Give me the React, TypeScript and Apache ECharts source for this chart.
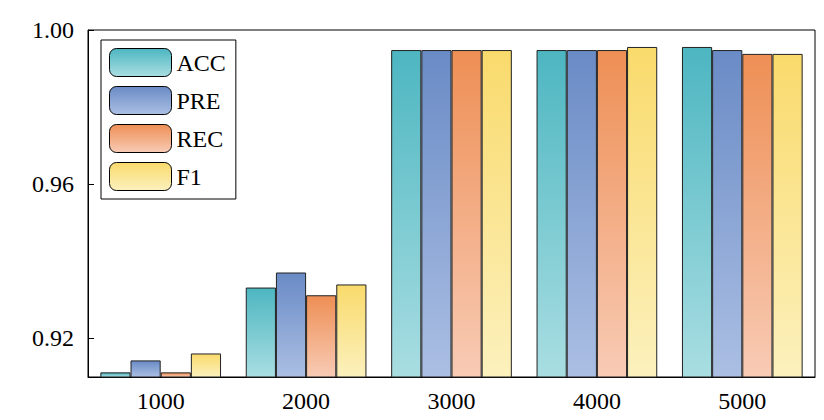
import React, { useEffect, useRef } from "react";
import * as echarts from "echarts";

const categories = ["1000", "2000", "3000", "4000", "5000"];
const seriesNames = ["ACC", "PRE", "REC", "F1"];
const acc = [0.9112, 0.9332, 0.9948, 0.9948, 0.9956];
const pre = [0.9143, 0.9371, 0.9948, 0.9948, 0.9948];
const rec = [0.9112, 0.9312, 0.9948, 0.9948, 0.9938];
const f1 = [0.9161, 0.934, 0.9948, 0.9956, 0.9938];
const yTicks = [0.92, 0.96, 1.0];
const colors: [string, string][] = [
  ["#4db6c1", "#a9dee2"],
  ["#6a8bc6", "#abbfe3"],
  ["#ee8f55", "#f8cbb5"],
  ["#f9da6c", "#fcf1bd"],
];

export default function App() {
  const ref = useRef<HTMLDivElement>(null);
  useEffect(() => {
    const chart = echarts.init(ref.current!, null, { renderer: "svg" });
    const data = [acc, pre, rec, f1];
    chart.setOption({
      animation: false,
      textStyle: { fontFamily: "Liberation Serif" },
      grid: { left: 88, right: 9, top: 30, bottom: 43, show: true, borderColor: "#000", borderWidth: 1 },
      legend: {
        orient: "vertical",
        left: 101,
        top: 40,
        itemWidth: 62,
        itemHeight: 28,
        itemGap: 9,
        padding: [8, 10, 8, 8],
        borderColor: "#000",
        borderWidth: 1,
        backgroundColor: "#fff",
        textStyle: { fontSize: 24, fontFamily: "Liberation Serif", color: "#000" },
        data: seriesNames.map((n) => ({ name: n, itemStyle: { borderColor: "#000", borderWidth: 1 } })),
      },
      xAxis: {
        type: "category",
        data: categories,
        axisLine: { lineStyle: { color: "#000" } },
        axisTick: { inside: true, length: 5, lineStyle: { color: "#000" } },
        axisLabel: { fontSize: 24, color: "#000", margin: 12, fontFamily: "Liberation Serif" },
      },
      yAxis: {
        type: "value",
        min: 0.91,
        max: 1.0,
        splitLine: { show: false },
        axisLine: { show: true, lineStyle: { color: "#000" } },
        axisTick: { show: true, inside: true, length: 6, customValues: yTicks, lineStyle: { color: "#000" } },
        axisLabel: {
          fontSize: 24,
          color: "#000",
          margin: 14,
          fontFamily: "Liberation Serif",
          customValues: yTicks,
          formatter: (v: number) => v.toFixed(2),
        },
      },
      series: seriesNames.map((n, i) => ({
        name: n,
        type: "bar",
        data: data[i],
        barGap: "0%",
        barCategoryGap: "17%",
        itemStyle: {
          borderColor: "#222",
          borderWidth: 1,
          color: new echarts.graphic.LinearGradient(0, 0, 0, 1, [
            { offset: 0, color: colors[i][0] },
            { offset: 1, color: colors[i][1] },
          ]),
        },
      })),
    });
    return () => chart.dispose();
  }, []);
  return <div ref={ref} style={{ position: "absolute", left: 0, top: 0, width: 824, height: 420, background: "#fff" }} />;
}
